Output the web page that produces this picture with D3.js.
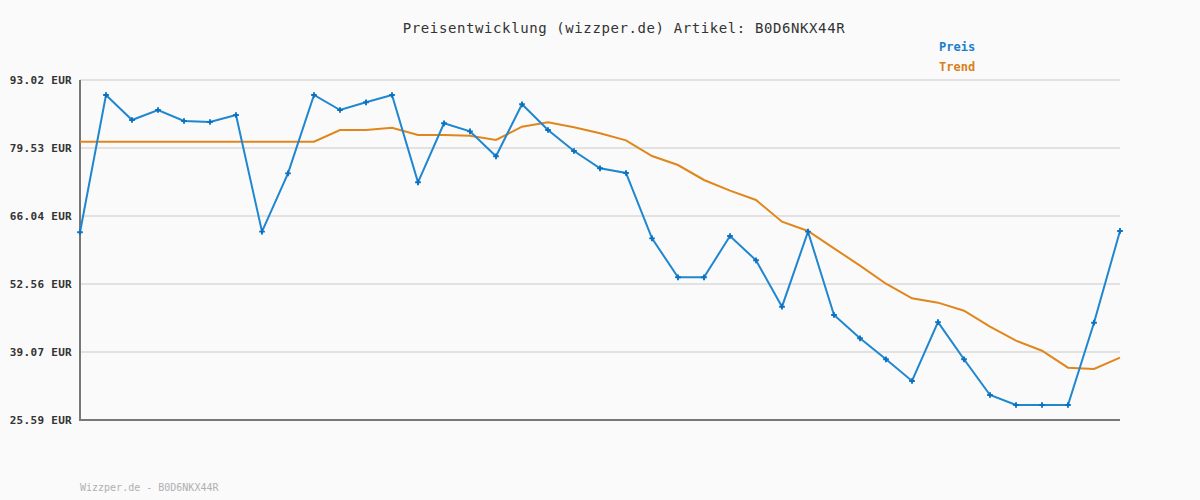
<!DOCTYPE html>
<html><head><meta charset="utf-8">
<script src="https://cdn.jsdelivr.net/npm/d3@7"></script>
<style>html,body{margin:0;padding:0;background:#fafafa;}</style>
</head><body>
<svg id="c" width="1200" height="500"></svg>
<script>
const title = "Preisentwicklung (wizzper.de) Artikel: B0D6NKX44R";
const legendLabels = ["Preis", "Trend"];
const tickValues = [25.59, 39.07, 52.56, 66.04, 79.53, 93.02];
const tickLabels = ["25.59 EUR", "39.07 EUR", "52.56 EUR", "66.04 EUR", "79.53 EUR", "93.02 EUR"];
const preis = [62.82, 90.05, 85.09, 87.07, 84.89, 84.69, 86.08, 62.94, 74.51, 90.05,
  87.07, 88.60, 90.05, 72.73, 84.43, 82.84, 77.89, 88.20, 83.10, 78.94,
  75.51, 74.58, 61.62, 53.89, 53.89, 62.08, 57.26, 48.06, 62.94, 46.41,
  41.79, 37.63, 33.33, 45.00, 37.63, 30.55, 28.57, 28.57, 28.57, 44.89, 63.08];
const trend = [80.79, 80.79, 80.79, 80.79, 80.79, 80.79, 80.79, 80.79, 80.79, 80.79,
  83.10, 83.10, 83.56, 82.11, 82.11, 81.98, 81.12, 83.76, 84.62, 83.63,
  82.45, 81.05, 77.95, 76.16, 73.19, 71.07, 69.22, 64.92, 63.07, 59.64,
  56.20, 52.62, 49.72, 48.86, 47.27, 44.10, 41.33, 39.33, 35.97, 35.71, 37.95];
const watermark = "Wizzper.de - B0D6NKX44R";

const svg = d3.select("#c");
const mono = "'DejaVu Sans Mono', monospace";
const blue = "#1f86d0", orange = "#e0861c";
const x = d3.scaleLinear().domain([0, preis.length - 1]).range([80, 1120]);
const y = d3.scaleLinear().domain([25.59, 93.02]).range([420, 80]);

svg.append("rect").attr("width", 1200).attr("height", 500).attr("fill", "#fafafa");

// grid
svg.append("g").selectAll("line").data(tickValues.slice(1)).join("line")
  .attr("x1", 80).attr("x2", 1120)
  .attr("y1", d => y(d)).attr("y2", d => y(d))
  .attr("stroke", "#e2e2e2").attr("stroke-width", 2);

// axis lines
svg.append("path").attr("d", `M80,${y(93.02)}V${y(25.59)}H1120`)
  .attr("fill", "none").attr("stroke", "#777").attr("stroke-width", 2);

// tick labels
svg.append("g").selectAll("text").data(tickValues).join("text")
  .attr("x", 72).attr("y", d => y(d)).attr("dy", "0.35em")
  .attr("text-anchor", "end").attr("font-family", mono).attr("font-size", 11)
  .attr("font-weight", "bold").attr("letter-spacing", 0.3).attr("fill", "#333")
  .text((d, i) => tickLabels[i]);

const line = d3.line().x((d, i) => x(i)).y(d => y(d));
svg.append("path").datum(trend).attr("d", line).attr("fill", "none")
  .attr("stroke", orange).attr("stroke-width", 2);
svg.append("path").datum(preis).attr("d", line).attr("fill", "none")
  .attr("stroke", blue).attr("stroke-width", 2);
svg.append("g").selectAll("path").data(preis).join("path")
  .attr("transform", (d, i) => `translate(${x(i)},${y(d)})`)
  .attr("d", d3.symbol(d3.symbolCross, 18)).attr("fill", "#0b72c2");

// title
svg.append("text").attr("x", 624).attr("y", 33).attr("text-anchor", "middle")
  .attr("font-family", mono).attr("font-size", 14).attr("letter-spacing", 0.6)
  .attr("fill", "#333").text(title);

// legend
svg.append("g").selectAll("text").data(legendLabels).join("text")
  .attr("x", 939).attr("y", (d, i) => 51 + i * 20)
  .attr("font-family", mono).attr("font-size", 12).attr("font-weight", "bold")
  .attr("fill", (d, i) => i === 0 ? "#1a7fc8" : "#d98018").text(d => d);

// watermark
svg.append("text").attr("x", 80).attr("y", 491).attr("font-family", mono)
  .attr("font-size", 10).attr("fill", "#b0b0b0").text(watermark);
</script>
</body></html>
